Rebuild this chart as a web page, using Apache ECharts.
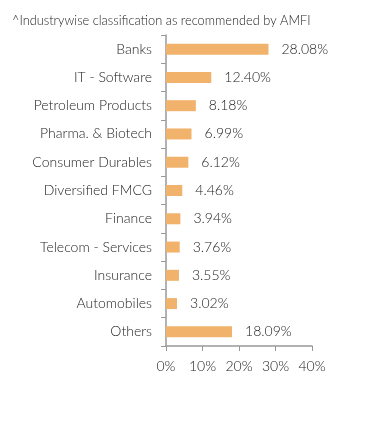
<!DOCTYPE html>
<html><head><meta charset="utf-8">
<script src="https://cdn.jsdelivr.net/npm/echarts@6/dist/echarts.min.js"></script>
<style>html,body{margin:0;padding:0;background:#fff}#c{width:392px;height:433px}</style>
</head><body><div id="c"></div>
<script>
const title = '^Industrywise classification as recommended by AMFI';
const categories = ['Banks','IT - Software','Petroleum Products','Pharma. & Biotech','Consumer Durables','Diversified FMCG','Finance','Telecom - Services','Insurance','Automobiles','Others'];
const values = [28.08,12.40,8.18,6.99,6.12,4.46,3.94,3.76,3.55,3.02,18.09];
const xTicks = [0,10,20,30,40];

const chart = echarts.init(document.getElementById('c'), null, {renderer:'canvas'});
chart.setOption({
  animation:false,
  backgroundColor:'#fff',
  title:{text:title,left:7,top:9,textStyle:{fontFamily:'Lato',fontWeight:300,fontSize:12.8,color:'#222'}},
  grid:{left:166,right:80,top:35,bottom:87,containLabel:false},
  xAxis:{type:'value',min:xTicks[0],max:xTicks[xTicks.length-1],interval:10,
    axisLine:{show:true,lineStyle:{color:'#999',width:1.5}},
    axisTick:{show:true,length:5,lineStyle:{color:'#999'}},
    splitLine:{show:false},
    axisLabel:{formatter:'{value}%',fontFamily:'Lato',fontWeight:300,fontSize:14,color:'#222',margin:13}},
  yAxis:{type:'category',data:categories,inverse:true,
    axisLine:{show:true,lineStyle:{color:'#999',width:1.5}},
    axisTick:{show:true,length:5,lineStyle:{color:'#999'}},
    axisLabel:{fontFamily:'Lato',fontWeight:300,fontSize:14,color:'#222',margin:14}},
  series:[{type:'bar',data:values,barWidth:11,
    itemStyle:{color:'#F1B36B'},
    label:{show:true,position:'right',distance:13,formatter:p=>p.value.toFixed(2)+'%',fontFamily:'Lato',fontWeight:300,fontSize:14,color:'#222'}}]
});
</script></body></html>
